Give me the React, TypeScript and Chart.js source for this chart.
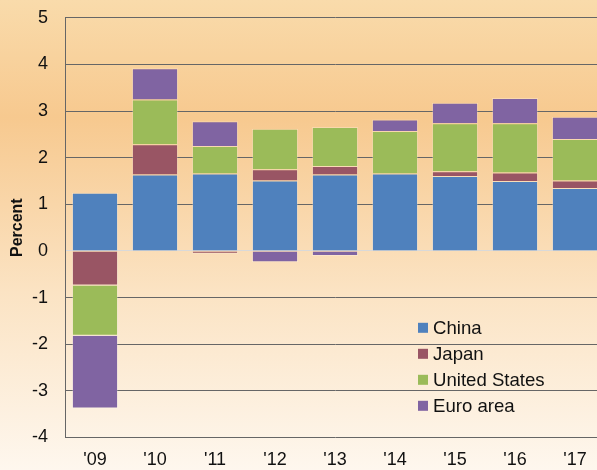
import React, { useEffect, useRef } from "react";
import { Chart, registerables } from "chart.js";

Chart.register(...registerables);

const categories = ["'09", "'10", "'11", "'12", "'13", "'14", "'15", "'16", "'17"];
const china = [1.25, 1.64, 1.66, 1.51, 1.64, 1.66, 1.61, 1.5, 1.35];
const japan = [-0.74, 0.65, -0.06, 0.24, 0.18, 0, 0.1, 0.18, 0.16];
const unitedStates = [-1.08, 0.96, 0.59, 0.87, 0.84, 0.91, 1.03, 1.06, 0.89];
const euroArea = [-1.56, 0.67, 0.53, -0.24, -0.11, 0.25, 0.44, 0.54, 0.48];
const seriesNames = ["China", "Japan", "United States", "Euro area"];
const seriesColors = ["#4F81BD", "#995564", "#9BBB59", "#8064A2"];
const yTicks = { min: -4, max: 5, step: 1 };

const FONT = "'Liberation Sans', Arial, sans-serif";

const insideLegend = {
  id: "insideLegend",
  afterDraw(chart: any) {
    const ctx = chart.ctx;
    const area = chart.chartArea;
    const x0 = area.left + 353;
    const y0 = area.top + 310;
    const rowH = 26;
    ctx.save();
    ctx.font = `18.6px ${FONT}`;
    ctx.textBaseline = "middle";
    ctx.textAlign = "left";
    chart.data.datasets.forEach((ds: any, i: number) => {
      const cy = y0 + i * rowH;
      ctx.fillStyle = ds.backgroundColor;
      ctx.fillRect(x0, cy - 5, 10, 10);
      ctx.fillStyle = "#111111";
      ctx.fillText(ds.label, x0 + 15, cy + 1);
    });
    ctx.restore();
  },
};

export default function App() {
  const canvasRef = useRef<HTMLCanvasElement | null>(null);

  useEffect(() => {
    document.body.style.margin = "0";
    const canvas = canvasRef.current;
    if (!canvas) return;
    const values = [china, japan, unitedStates, euroArea];
    const chart = new Chart(canvas, {
      type: "bar",
      data: {
        labels: categories,
        datasets: values.map((v, i) => ({
          label: seriesNames[i],
          data: v,
          backgroundColor: seriesColors[i],
          borderColor: "rgba(255,255,255,0.25)",
          borderWidth: 1,
          categoryPercentage: 0.77,
          barPercentage: 1,
        })),
      },
      options: {
        animation: false,
        responsive: false,
        maintainAspectRatio: false,
        layout: { padding: { top: 8, right: 7, left: 0, bottom: 0 } },
        plugins: {
          legend: { display: false },
          tooltip: { enabled: false },
        },
        scales: {
          x: {
            stacked: true,
            grid: { display: false, drawTicks: false },
            border: { display: false },
            ticks: {
              color: "#111111",
              font: { family: FONT, size: 18 },
              padding: 12,
              maxRotation: 0,
            },
            afterFit(scale: any) {
              scale.height = 32.5;
            },
          },
          y: {
            stacked: true,
            min: yTicks.min,
            max: yTicks.max,
            ticks: {
              stepSize: yTicks.step,
              color: "#111111",
              font: { family: FONT, size: 18 },
              padding: 17,
            },
            grid: {
              drawTicks: false,
              color: (c: any) => (c.tick && c.tick.value === 0 ? "#d9d9d9" : "#666666"),
              lineWidth: 1,
            },
            border: { display: true, color: "#666666", width: 1 },
            title: {
              display: true,
              text: "Percent",
              color: "#111111",
              font: { family: FONT, size: 16, weight: "bold" },
              padding: { top: 8, bottom: 0 },
            },
            afterFit(scale: any) {
              scale.width = 65;
            },
          },
        },
      },
      plugins: [insideLegend],
    });
    return () => chart.destroy();
  }, []);

  return (
    <div
      style={{
        width: 597,
        height: 470,
        overflow: "hidden",
        position: "relative",
        background:
          "linear-gradient(to bottom, #F9DBAB 0%, #F7C98F 25%, #FBE3C3 62%, #FEF7EE 100%)",
      }}
    >
      <canvas
        ref={canvasRef}
        width={612}
        height={480}
        style={{ display: "block", marginTop: -10 }}
      />
    </div>
  );
}
